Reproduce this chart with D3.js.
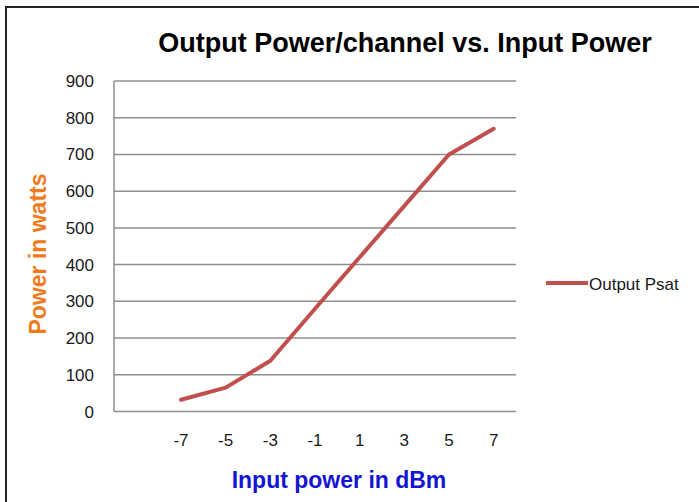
<!DOCTYPE html>
<html>
<head>
<meta charset="utf-8">
<script src="https://cdn.jsdelivr.net/npm/d3@7"></script>
<style>
  body { margin: 0; background: #fff; }
  svg { display: block; }
</style>
</head>
<body>
<svg width="699" height="502"></svg>
<script>
// values
var inputPower = ["-7", "-5", "-3", "-1", "1", "3", "5", "7"];
var outputPsat = [32, 65, 138, 280, 420, 560, 700, 770];
var yTicks = [0, 100, 200, 300, 400, 500, 600, 700, 800, 900];

var svg = d3.select("svg"),
    width = 699,
    height = 502,
    plotLeft = 114, plotRight = 516, plotTop = 81, plotBottom = 411.5;

var font = "Liberation Sans, Arial, sans-serif";

// frame (top and left edges only show in the reference)
svg.append("line").attr("x1", 5).attr("x2", width).attr("y1", 7).attr("y2", 7)
  .attr("stroke", "#222").attr("stroke-width", 2);
svg.append("line").attr("x1", 6).attr("x2", 6).attr("y1", 7).attr("y2", height)
  .attr("stroke", "#222").attr("stroke-width", 2);

// first slot of the category axis is empty
var x = d3.scaleBand()
    .domain([""].concat(inputPower))
    .range([plotLeft, plotRight]);

var y = d3.scaleLinear()
    .domain([0, 900])
    .range([plotBottom, plotTop]);

// gridlines
svg.append("g")
  .selectAll("line")
  .data(yTicks.slice(1))
  .join("line")
    .attr("x1", plotLeft).attr("x2", plotRight)
    .attr("y1", function(d) { return y(d); })
    .attr("y2", function(d) { return y(d); })
    .attr("stroke", "#8e8e8e")
    .attr("stroke-width", 1.5);

// axes lines
svg.append("line").attr("x1", plotLeft).attr("x2", plotLeft).attr("y1", plotTop).attr("y2", plotBottom)
  .attr("stroke", "#8e8e8e").attr("stroke-width", 1.5);
svg.append("line").attr("x1", plotLeft).attr("x2", plotRight).attr("y1", plotBottom).attr("y2", plotBottom)
  .attr("stroke", "#8e8e8e").attr("stroke-width", 1.5);

// y tick labels
svg.append("g")
  .selectAll("text")
  .data(yTicks)
  .join("text")
    .attr("x", 94)
    .attr("y", function(d) { return y(d) + 6; })
    .attr("text-anchor", "end")
    .attr("font-family", font)
    .attr("font-size", 17)
    .attr("fill", "#1a1a1a")
    .text(function(d) { return d; });

// x tick labels
svg.append("g")
  .selectAll("text")
  .data(inputPower)
  .join("text")
    .attr("x", function(d) { return x(d) + x.bandwidth() / 2; })
    .attr("y", 446)
    .attr("text-anchor", "middle")
    .attr("font-family", font)
    .attr("font-size", 17)
    .attr("fill", "#1a1a1a")
    .text(function(d) { return d; });

// the series
var line = d3.line()
    .x(function(d, i) { return x(inputPower[i]) + x.bandwidth() / 2; })
    .y(function(d) { return y(d); });

svg.append("path")
  .datum(outputPsat)
  .attr("d", line)
  .attr("fill", "none")
  .attr("stroke", "#c0504d")
  .attr("stroke-width", 4)
  .attr("stroke-linejoin", "round")
  .attr("stroke-linecap", "round");

// title
svg.append("text")
  .attr("x", 405)
  .attr("y", 52)
  .attr("text-anchor", "middle")
  .attr("font-family", font)
  .attr("font-weight", "bold")
  .attr("font-size", 27)
  .attr("fill", "#000")
  .text("Output Power/channel vs. Input Power");

// axis titles
svg.append("text")
  .attr("transform", "translate(46,254) rotate(-90)")
  .attr("text-anchor", "middle")
  .attr("font-family", font)
  .attr("font-weight", "bold")
  .attr("font-size", 23)
  .attr("fill", "#f07a1e")
  .text("Power in watts");

svg.append("text")
  .attr("x", 339)
  .attr("y", 488)
  .attr("text-anchor", "middle")
  .attr("font-family", font)
  .attr("font-weight", "bold")
  .attr("font-size", 23)
  .attr("fill", "#1414d2")
  .text("Input power in dBm");

// legend
svg.append("line")
  .attr("x1", 546).attr("x2", 588).attr("y1", 283).attr("y2", 283)
  .attr("stroke", "#c0504d").attr("stroke-width", 4);
svg.append("text")
  .attr("x", 589)
  .attr("y", 290)
  .attr("font-family", font)
  .attr("font-size", 17)
  .attr("fill", "#1a1a1a")
  .text("Output Psat");
</script>
</body>
</html>
